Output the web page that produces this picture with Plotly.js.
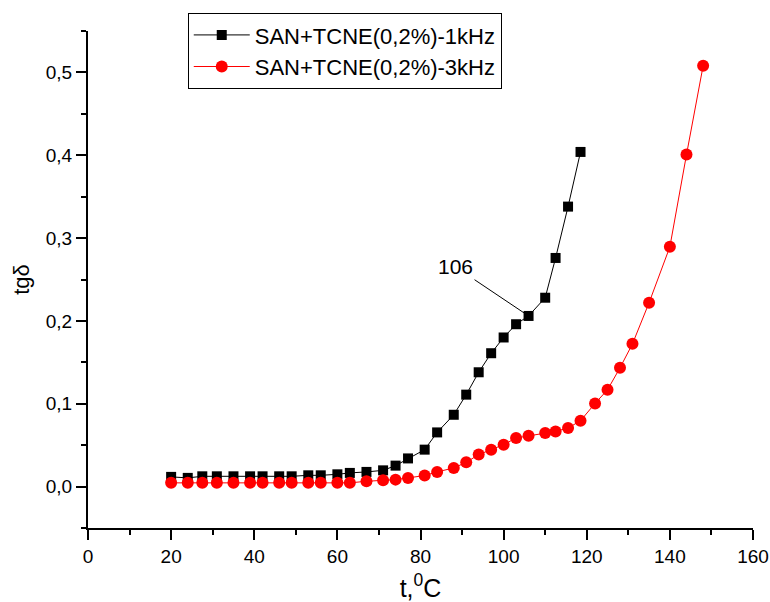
<!DOCTYPE html>
<html>
<head>
<meta charset="utf-8">
<script src="https://cdn.plot.ly/plotly-3.0.1.min.js"></script>
<style>html,body{margin:0;padding:0;background:#fff;}#chart{width:770px;height:602px;}</style>
</head>
<body>
<div id="chart"></div>
<script>
// Temperature, °C
const temp1k = [20, 24, 27.5, 31, 35, 39, 42, 46, 49, 53, 56, 60, 63, 67, 71, 74, 77, 81, 84, 88, 91, 94, 97, 100, 103, 106, 110, 112.5, 115.5, 118.5];
const tg1k = [0.0117, 0.0105, 0.0124, 0.0124, 0.0124, 0.0124, 0.0124, 0.0124, 0.0124, 0.0136, 0.0136, 0.0148, 0.0165, 0.0177, 0.0196, 0.0253, 0.034, 0.0446, 0.0654, 0.0867, 0.111, 0.138, 0.161, 0.180, 0.196, 0.206, 0.228, 0.276, 0.338, 0.404];
const temp3k = [20, 24, 27.5, 31, 35, 39, 42, 46, 49, 53, 56, 60, 63, 67, 71, 74, 77, 81, 84, 88, 91, 94, 97, 100, 103, 106, 110, 112.5, 115.5, 118.5, 122, 125, 128, 131, 135, 140, 144, 148];
const tg3k = [0.0045, 0.0045, 0.0045, 0.0045, 0.0045, 0.0045, 0.0045, 0.0045, 0.0045, 0.0045, 0.0045, 0.0045, 0.0045, 0.0064, 0.0076, 0.0084, 0.0105, 0.0133, 0.0177, 0.0225, 0.0293, 0.0386, 0.0446, 0.0506, 0.0587, 0.0614, 0.0647, 0.0666, 0.0707, 0.0795, 0.1004, 0.1169, 0.1434, 0.1723, 0.222, 0.2895, 0.4008, 0.508];
const seriesNames = ['SAN+TCNE(0,2%)-1kHz', 'SAN+TCNE(0,2%)-3kHz'];
const noteLabel = '106';
const noteX = 106;
const noteY = 0.206;

const font = 'Liberation Sans, Arial, sans-serif';

const traces = [
  {
    x: temp1k, y: tg1k, name: seriesNames[0], type: 'scatter', mode: 'lines+markers',
    line: {color: '#000000', width: 1},
    marker: {symbol: 'square', size: 10, color: '#000000'}
  },
  {
    x: temp3k, y: tg3k, name: seriesNames[1], type: 'scatter', mode: 'lines+markers',
    line: {color: '#ff0000', width: 1},
    marker: {symbol: 'circle', size: 12, color: '#ff0000'}
  }
];

const axisCommon = {
  showline: true, linecolor: '#000', linewidth: 2, mirror: false,
  showgrid: false, zeroline: false,
  ticks: 'outside', ticklen: 10, tickwidth: 2, tickcolor: '#000',
  tickfont: {family: font, size: 19, color: '#000'},
  automargin: false
};

const layout = {
  width: 770, height: 602,
  margin: {l: 88, r: 17, t: 31, b: 74},
  paper_bgcolor: '#fff', plot_bgcolor: '#fff',
  separators: ', ',
  font: {family: font, color: '#000'},
  showlegend: true,
  legend: {
    x: 0.150, y: 1.036, xanchor: 'left', yanchor: 'top',
    bordercolor: '#000', borderwidth: 1, bgcolor: '#fff',
    font: {family: font, size: 22, color: '#000'},
    itemwidth: 56, tracegroupgap: 0
  },
  xaxis: Object.assign({}, axisCommon, {
    range: [0, 160], tick0: 0, dtick: 20,
    minor: {dtick: 10, ticklen: 5, tickwidth: 2, tickcolor: '#000', ticks: 'outside'},
    title: {text: 't,<sup>0</sup>C', font: {family: font, size: 25, color: '#000'}, standoff: 18}
  }),
  yaxis: Object.assign({}, axisCommon, {
    range: [-0.05, 0.55], tick0: 0, dtick: 0.1, tickformat: '.1f',
    minor: {dtick: 0.05, ticklen: 5, tickwidth: 2, tickcolor: '#000', ticks: 'outside'},
    title: {text: 'tgδ', font: {family: font, size: 22, color: '#000'}, standoff: 10}
  }),
  annotations: [{
    x: noteX, y: noteY, xref: 'x', yref: 'y',
    text: noteLabel, showarrow: true, arrowhead: 0, arrowwidth: 1, arrowcolor: '#000',
    ax: -73, ay: -49,
    font: {family: font, size: 21, color: '#000'}
  }]
};

Plotly.newPlot('chart', traces, layout, {displayModeBar: false, staticPlot: true});
</script>
</body>
</html>
